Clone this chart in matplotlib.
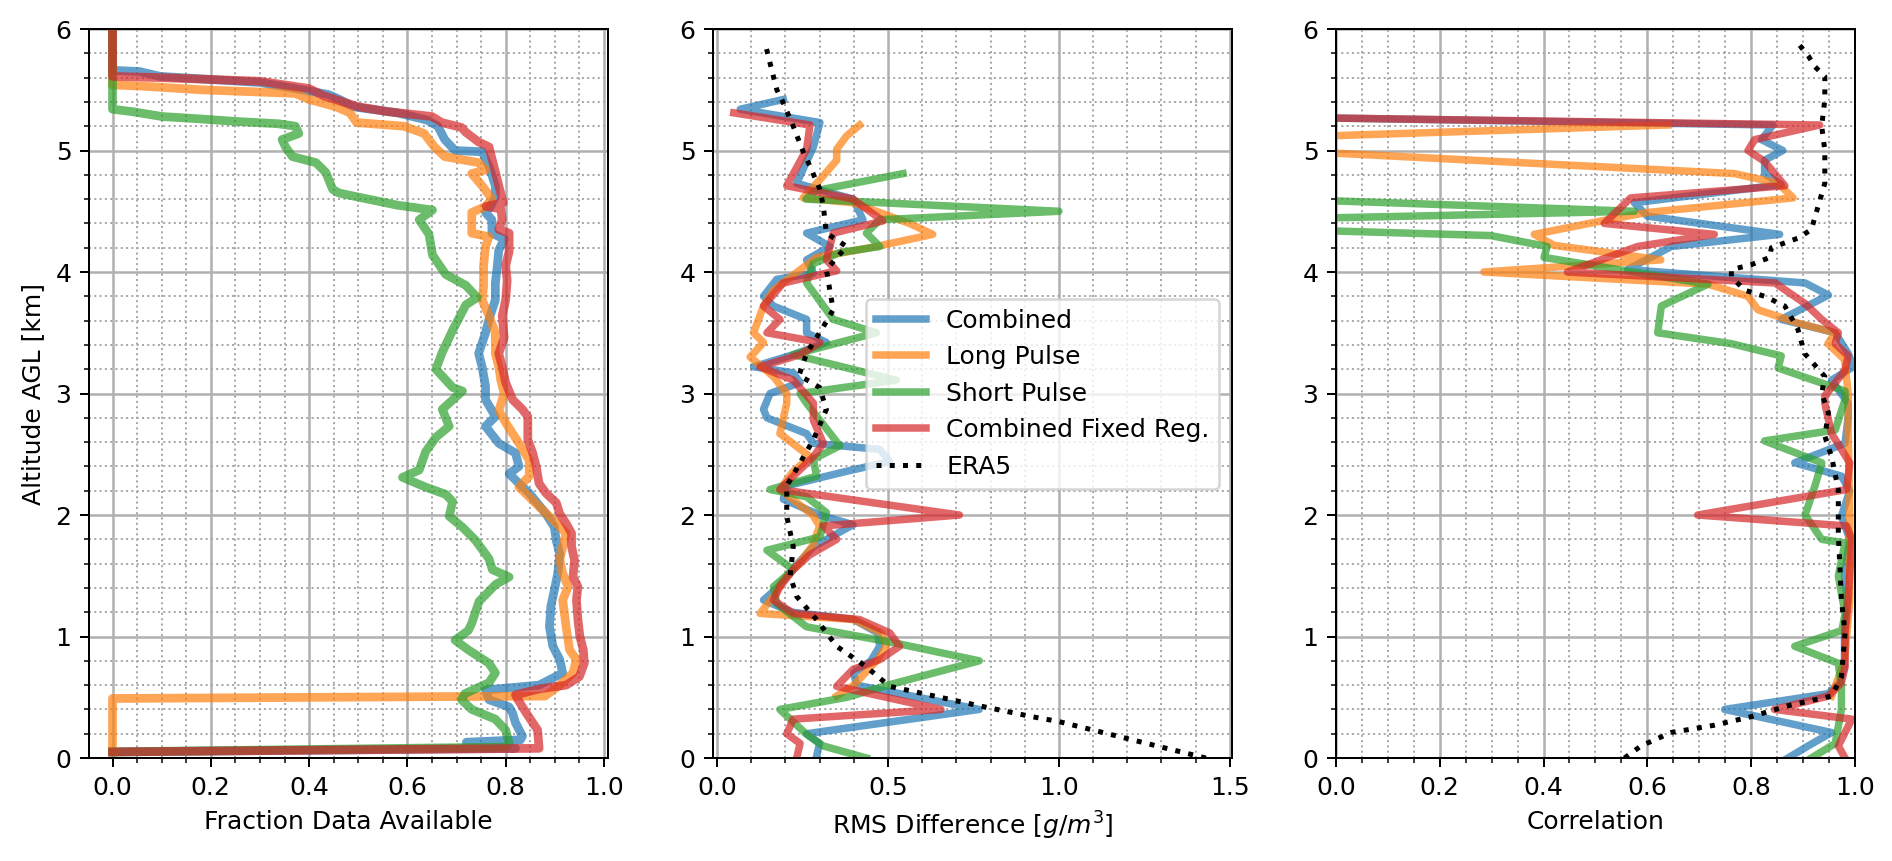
import matplotlib
matplotlib.use("Agg")
import matplotlib.pyplot as plt

labels = ["Combined", "Long Pulse", "Short Pulse", "Combined Fixed Reg."]
colors = ["tab:blue", "tab:orange", "tab:green", "tab:red"]

# ---- panel 1: fraction of data available ----
avail_alt_comb = [0.05, 0.08, 0.13, 0.15, 0.18, 0.29, 0.37, 0.42, 0.48, 0.56, 0.60, 0.70, 0.81, 0.92,
                  1.08, 1.25, 1.38, 1.52, 1.68, 1.79, 1.90, 2.01, 2.18, 2.26, 2.34, 2.40, 2.51, 2.59,
                  2.73, 2.81, 2.95, 3.06, 3.22, 3.33, 3.50, 3.61, 3.77, 3.91, 4.05, 4.18, 4.27, 4.32,
                  4.43, 4.49, 4.54, 4.62, 4.71, 4.87, 4.99, 5.00, 5.09, 5.20, 5.25, 5.31, 5.36, 5.42,
                  5.46, 5.50, 5.56, 5.61, 5.65, 5.66, 6.00]
avail_comb = [0.0, 0.82, 0.72, 0.83, 0.834, 0.82, 0.814, 0.807, 0.766, 0.759, 0.868, 0.916, 0.91, 0.896,
              0.889, 0.892, 0.899, 0.906, 0.91, 0.903, 0.899, 0.882, 0.848, 0.827, 0.807, 0.827, 0.82, 0.786,
              0.759, 0.779, 0.759, 0.759, 0.752, 0.745, 0.759, 0.766, 0.779, 0.779, 0.783, 0.786, 0.797, 0.772,
              0.772, 0.759, 0.769, 0.779, 0.779, 0.766, 0.752, 0.697, 0.676, 0.662, 0.64, 0.58, 0.49, 0.462,
              0.44, 0.386, 0.30, 0.097, 0.055, 0.0, 0.0]

avail_alt_long = [0.05, 0.49, 0.51, 0.60, 0.70, 0.81, 0.89, 1.08, 1.30, 1.41, 1.52, 1.63, 1.74, 1.85,
                  1.96, 2.07, 2.23, 2.32, 2.45, 2.59, 2.76, 2.86, 3.00, 3.11, 3.22, 3.33, 3.50, 3.64,
                  3.77, 3.88, 4.05, 4.21, 4.29, 4.32, 4.49, 4.54, 4.60, 4.71, 4.81, 4.84, 4.90, 4.95,
                  5.03, 5.14, 5.20, 5.23, 5.31, 5.36, 5.42, 5.47, 5.50, 5.53, 5.54, 6.00]
avail_long = [0.0, 0.0, 0.88, 0.91, 0.937, 0.944, 0.93, 0.923, 0.916, 0.927, 0.916, 0.91, 0.916, 0.923,
              0.896, 0.868, 0.827, 0.848, 0.848, 0.827, 0.80, 0.786, 0.797, 0.79, 0.786, 0.779, 0.779, 0.766,
              0.752, 0.755, 0.755, 0.759, 0.766, 0.731, 0.731, 0.759, 0.772, 0.752, 0.731, 0.759, 0.745, 0.676,
              0.655, 0.634, 0.593, 0.497, 0.483, 0.455, 0.40, 0.372, 0.179, 0.06, 0.0, 0.0]

avail_alt_short = [0.05, 0.09, 0.12, 0.23, 0.32, 0.40, 0.48, 0.53, 0.62, 0.70, 0.78, 0.89, 0.97, 1.05,
                   1.11, 1.29, 1.43, 1.49, 1.55, 1.64, 1.79, 1.90, 1.99, 2.11, 2.17, 2.23, 2.31, 2.37,
                   2.52, 2.64, 2.73, 2.87, 3.02, 3.05, 3.20, 3.34, 3.52, 3.73, 3.79, 3.89, 3.98, 4.14,
                   4.31, 4.43, 4.51, 4.55, 4.60, 4.65, 4.68, 4.82, 4.90, 4.95, 5.03, 5.09, 5.14, 5.20,
                   5.22, 5.24, 5.26, 5.28, 5.32, 5.34, 6.00]
avail_short = [0.0, 0.80, 0.807, 0.80, 0.779, 0.731, 0.71, 0.717, 0.766, 0.779, 0.766, 0.724, 0.697, 0.724,
               0.731, 0.746, 0.78, 0.807, 0.773, 0.766, 0.739, 0.712, 0.685, 0.692, 0.678, 0.637, 0.59, 0.624,
               0.637, 0.658, 0.685, 0.671, 0.712, 0.692, 0.658, 0.671, 0.692, 0.719, 0.742, 0.719, 0.678, 0.651,
               0.644, 0.624, 0.651, 0.58, 0.52, 0.461, 0.448, 0.434, 0.414, 0.366, 0.352, 0.345, 0.379, 0.372,
               0.338, 0.248, 0.179, 0.10, 0.04, 0.0, 0.0]

avail_alt_fixed = [0.05, 0.08, 0.23, 0.37, 0.48, 0.52, 0.57, 0.60, 0.67, 0.78, 0.89, 1.00, 1.14, 1.30,
                   1.41, 1.49, 1.63, 1.74, 1.85, 1.93, 2.01, 2.10, 2.18, 2.26, 2.40, 2.51, 2.62, 2.81,
                   2.87, 2.95, 3.09, 3.22, 3.33, 3.46, 3.64, 3.77, 3.93, 4.05, 4.17, 4.32, 4.35, 4.43,
                   4.52, 4.54, 4.57, 4.71, 4.87, 5.03, 5.07, 5.15, 5.19, 5.23, 5.28, 5.32, 5.36, 5.45,
                   5.51, 5.57, 5.60, 5.61, 6.00]
avail_fixed = [0.0, 0.868, 0.865, 0.842, 0.825, 0.82, 0.87, 0.923, 0.95, 0.96, 0.958, 0.951, 0.947, 0.944,
               0.947, 0.937, 0.94, 0.934, 0.934, 0.923, 0.91, 0.903, 0.882, 0.868, 0.862, 0.855, 0.845, 0.845,
               0.834, 0.814, 0.80, 0.793, 0.786, 0.797, 0.793, 0.80, 0.803, 0.80, 0.807, 0.807, 0.786, 0.793,
               0.79, 0.76, 0.795, 0.786, 0.776, 0.766, 0.745, 0.719, 0.71, 0.67, 0.65, 0.56, 0.50, 0.43,
               0.40, 0.30, 0.097, 0.0, 0.0]

# ---- panel 2: RMS difference [g/m^3] ----
rms_alt_comb = [0.0, 0.12, 0.2, 0.4, 0.6, 0.7, 0.8, 0.92, 1.03, 1.14, 1.2, 1.30, 1.41, 1.55, 1.74, 1.92,
                2.0, 2.13, 2.24, 2.36, 2.44, 2.54, 2.59, 2.67, 2.80, 2.87, 3.0, 3.09, 3.17, 3.22, 3.32,
                3.42, 3.5, 3.61, 3.72, 3.80, 3.94, 3.99, 4.10, 4.21, 4.32, 4.43, 4.6, 4.73, 5.03, 5.23,
                5.34, 5.42]
rms_comb = [0.29, 0.30, 0.262, 0.767, 0.408, 0.40, 0.45, 0.476, 0.47, 0.40, 0.22, 0.136, 0.18, 0.22, 0.282,
            0.398, 0.30, 0.194, 0.204, 0.379, 0.505, 0.476, 0.282, 0.262, 0.146, 0.136, 0.155, 0.243, 0.223,
            0.107, 0.223, 0.32, 0.262, 0.262, 0.165, 0.136, 0.175, 0.282, 0.262, 0.33, 0.262, 0.427, 0.398,
            0.233, 0.282, 0.301, 0.068, 0.194]

rms_alt_long = [0.51, 0.6, 0.81, 0.92, 1.03, 1.14, 1.19, 1.33, 1.45, 1.6, 1.75, 1.91, 2.0, 2.21, 2.35,
                2.48, 2.67, 2.92, 3.0, 3.14, 3.30, 3.42, 3.5, 3.72, 3.85, 4.12, 4.21, 4.31, 4.40, 4.57,
                4.61, 4.76, 4.92, 5.01, 5.12, 5.21]
rms_long = [0.35, 0.40, 0.47, 0.495, 0.48, 0.40, 0.126, 0.165, 0.19, 0.24, 0.28, 0.30, 0.28, 0.184, 0.22,
            0.272, 0.184, 0.204, 0.204, 0.165, 0.097, 0.136, 0.107, 0.136, 0.165, 0.291, 0.466, 0.631, 0.563,
            0.398, 0.252, 0.301, 0.35, 0.35, 0.379, 0.417]

rms_alt_short = [0.0, 0.1, 0.2, 0.4, 0.5, 0.6, 0.8, 0.95, 1.08, 1.27, 1.41, 1.55, 1.71, 1.82, 2.02, 2.15,
                 2.21, 2.32, 2.46, 2.57, 2.78, 2.92, 3.0, 3.11, 3.32, 3.5, 3.61, 3.91, 4.07, 4.16, 4.21,
                 4.32, 4.43, 4.5, 4.6, 4.67, 4.81]
rms_short = [0.437, 0.31, 0.26, 0.184, 0.38, 0.50, 0.767, 0.515, 0.262, 0.175, 0.165, 0.223, 0.146, 0.301,
             0.32, 0.262, 0.155, 0.291, 0.282, 0.359, 0.301, 0.262, 0.243, 0.524, 0.223, 0.466, 0.34, 0.262,
             0.282, 0.359, 0.476, 0.437, 0.476, 1.0, 0.26, 0.29, 0.544]

rms_alt_fixed = [0.0, 0.12, 0.2, 0.32, 0.4, 0.59, 0.73, 0.81, 0.92, 1.03, 1.14, 1.19, 1.30, 1.41, 1.55,
                 1.67, 1.80, 1.91, 2.0, 2.21, 2.32, 2.48, 2.59, 2.78, 2.92, 3.11, 3.22, 3.32, 3.42, 3.5,
                 3.61, 3.72, 3.91, 4.01, 4.10, 4.32, 4.42, 4.6, 4.71, 5.01, 5.21, 5.31]
rms_fixed = [0.233, 0.243, 0.204, 0.223, 0.655, 0.35, 0.398, 0.476, 0.534, 0.505, 0.417, 0.223, 0.165,
             0.184, 0.223, 0.27, 0.35, 0.311, 0.709, 0.184, 0.223, 0.282, 0.311, 0.282, 0.282, 0.223, 0.126,
             0.243, 0.301, 0.146, 0.184, 0.136, 0.194, 0.35, 0.32, 0.34, 0.485, 0.398, 0.204, 0.262, 0.272,
             0.049]

rms_alt_era5 = [0.0, 0.09, 0.30, 0.34, 0.43, 0.59, 0.75, 0.92, 1.14, 1.33, 1.50, 1.74, 1.99, 2.24, 2.43,
                2.62, 2.87, 3.05, 3.15, 3.33, 3.55, 3.69, 3.85, 4.02, 4.21, 4.32, 4.54, 4.68, 4.87, 4.99,
                5.2, 5.39, 5.5, 5.72, 5.88]
rms_era5 = [1.43, 1.30, 1.0, 0.922, 0.767, 0.505, 0.437, 0.35, 0.291, 0.233, 0.214, 0.223, 0.204, 0.204,
            0.243, 0.282, 0.32, 0.30, 0.24, 0.262, 0.311, 0.34, 0.33, 0.32, 0.379, 0.32, 0.311, 0.301,
            0.272, 0.252, 0.223, 0.194, 0.175, 0.155, 0.141]

# ---- panel 3: correlation ----
corr_alt_comb = [0.0, 0.1, 0.21, 0.40, 0.53, 0.62, 0.75, 1.03, 1.30, 1.50, 1.80, 1.99, 2.2, 2.32, 2.43,
                 2.59, 2.81, 2.92, 3.11, 3.22, 3.33, 3.5, 3.61, 3.81, 3.91, 4.02, 4.21, 4.31, 4.46, 4.57,
                 4.72, 4.81, 4.92, 5.0, 5.09, 5.21, 5.27]
corr_comb = [0.871, 0.91, 0.955, 0.749, 0.949, 0.97, 0.98, 0.98, 0.985, 0.98, 0.99, 0.974, 0.99, 0.974,
             0.884, 0.981, 0.987, 0.987, 0.955, 0.997, 0.987, 0.962, 0.858, 0.949, 0.904, 0.562, 0.646,
             0.855, 0.6, 0.575, 0.858, 0.826, 0.826, 0.861, 0.82, 0.842, -0.05]

corr_alt_long = [0.51, 0.59, 0.8, 1.3, 2.0, 2.67, 3.0, 3.28, 3.41, 3.5, 3.58, 3.69, 3.8, 3.9, 4.0, 4.10,
                 4.22, 4.31, 4.43, 4.49, 4.61, 4.73, 4.81, 4.98, 5.05, 5.12, 5.21]
corr_long = [0.955, 0.962, 0.98, 0.99, 0.99, 0.987, 0.987, 0.98, 0.948, 0.962, 0.89, 0.813, 0.794, 0.717,
             0.285, 0.626, 0.42, 0.382, 0.523, 0.6, 0.881, 0.852, 0.768, -0.01, -0.4, -0.02, 0.64]

corr_alt_short = [0.0, 0.12, 0.40, 0.59, 0.78, 0.92, 1.05, 1.19, 1.50, 1.77, 1.80, 2.0, 2.24, 2.43, 2.61,
                  2.70, 2.95, 3.02, 3.21, 3.31, 3.41, 3.5, 3.72, 3.9, 4.12, 4.21, 4.3, 4.4, 4.5, 4.6]
corr_short = [0.916, 0.962, 0.974, 0.974, 0.968, 0.884, 0.975, 0.981, 0.968, 0.981, 0.936, 0.904, 0.923,
              0.936, 0.826, 0.962, 0.981, 0.981, 0.852, 0.858, 0.762, 0.62, 0.627, 0.717, 0.401, 0.407,
              0.298, -0.5, 0.575, -0.1]

corr_alt_fixed = [0.0, 0.1, 0.32, 0.40, 0.51, 0.62, 0.75, 1.03, 1.30, 1.80, 1.91, 2.0, 2.21, 2.43, 2.67,
                  2.92, 2.98, 3.19, 3.31, 3.41, 3.5, 3.61, 3.74, 3.91, 4.0, 4.21, 4.31, 4.40, 4.61, 4.71,
                  4.91, 5.0, 5.09, 5.21, 5.27]
corr_fixed = [0.981, 0.968, 0.994, 0.845, 0.949, 0.974, 0.981, 0.981, 0.987, 0.994, 0.984, 0.697, 0.984,
              0.99, 0.955, 0.942, 0.942, 0.981, 0.987, 0.962, 0.968, 0.936, 0.904, 0.846, 0.446, 0.581,
              0.729, 0.517, 0.568, 0.865, 0.826, 0.794, 0.807, 0.932, -0.05]

corr_alt_era5 = [0.0, 0.1, 0.21, 0.27, 0.34, 0.43, 0.51, 0.67, 1.03, 1.30, 1.85, 2.21, 2.48, 2.65, 2.84,
                 3.0, 3.14, 3.33, 3.53, 3.72, 3.80, 3.85, 3.96, 4.02, 4.06, 4.12, 4.20, 4.28, 4.35, 4.54,
                 4.73, 5.0, 5.2, 5.42, 5.61, 5.69, 5.78, 5.90]
corr_era5 = [0.556, 0.588, 0.646, 0.729, 0.80, 0.871, 0.955, 0.974, 0.981, 0.974, 0.968, 0.968, 0.955,
             0.942, 0.949, 0.936, 0.942, 0.903, 0.89, 0.865, 0.826, 0.788, 0.762, 0.762, 0.80, 0.836,
             0.839, 0.891, 0.916, 0.929, 0.942, 0.942, 0.936, 0.942, 0.942, 0.923, 0.91, 0.887]

avail = [(avail_comb, avail_alt_comb), (avail_long, avail_alt_long),
         (avail_short, avail_alt_short), (avail_fixed, avail_alt_fixed)]
rms = [(rms_comb, rms_alt_comb), (rms_long, rms_alt_long),
       (rms_short, rms_alt_short), (rms_fixed, rms_alt_fixed)]
corr = [(corr_comb, corr_alt_comb), (corr_long, corr_alt_long),
        (corr_short, corr_alt_short), (corr_fixed, corr_alt_fixed)]

dpi = 180
fig = plt.figure(figsize=(1892 / dpi, 861 / dpi), dpi=dpi)
bottom, height, width = 0.1196, 0.8467, 0.2743
ax1 = fig.add_axes([0.0470, bottom, width, height])
ax2 = fig.add_axes([0.3768, bottom, width, height])
ax3 = fig.add_axes([0.7061, bottom, width, height])

# the availability profiles are drawn a bit heavier
for ax, data, lw in zip([ax1, ax2, ax3], [avail, rms, corr], [3.5, 3, 3]):
    for (x, y), c, lab in zip(data, colors, labels):
        ax.plot(x, y, color=c, lw=lw, alpha=0.7, label=lab)

ax2.plot(rms_era5, rms_alt_era5, ":", color="k", lw=2, label="ERA5")
ax3.plot(corr_era5, corr_alt_era5, ":", color="k", lw=2, label="ERA5")

ax1.set_xlim(-0.048, 1.008)
ax2.set_xlim(-0.012, 1.506)
ax2.set_xticks([0.0, 0.5, 1.0, 1.5])
ax3.set_xlim(0, 1)

for ax in [ax1, ax2, ax3]:
    ax.set_ylim(0, 6)
    ax.minorticks_on()
    ax.grid(which="major", color="#b0b0b0", lw=1.0)
    ax.grid(which="minor", color="#a8a8a8", lw=0.8, ls=":")

ax1.set_xlabel("Fraction Data Available")
ax1.set_ylabel("Altitude AGL [km]")
ax2.set_xlabel("RMS Difference [$g/m^3$]")
ax3.set_xlabel("Correlation")
ax2.legend(loc="center right")

fig.savefig("out.png", dpi=dpi)
